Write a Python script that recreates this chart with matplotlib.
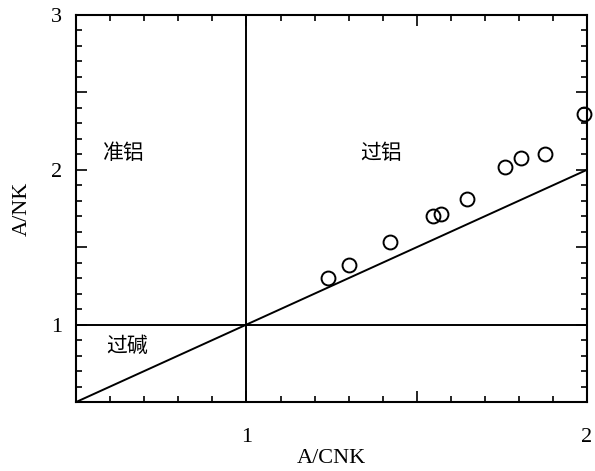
import matplotlib
matplotlib.use("Agg")
import matplotlib.pyplot as plt
from matplotlib.ticker import MultipleLocator, FixedFormatter, FixedLocator

acnk = [1.238, 1.302, 1.422, 1.548, 1.572, 1.648, 1.760, 1.806, 1.877, 1.991]
ank = [1.303, 1.387, 1.535, 1.703, 1.716, 1.813, 2.019, 2.077, 2.103, 2.361]
x_ticks = [1, 2]
y_ticks = [1, 2, 3]
region_labels = ["准铝", "过铝", "过碱"]

plt.rcParams['font.family'] = ['Liberation Serif', 'Noto Sans CJK SC']

fig = plt.figure(figsize=(5.95, 4.71), dpi=100)
ax = fig.add_axes([0.128, 0.1465, 0.8586, 0.8217])
ax.set_xlim(0.5, 2)
ax.set_ylim(0.5, 3)

lw = 1.4
ax.plot([0.5, 2], [0.5, 2], color='black', lw=lw)
ax.axvline(1, color='black', lw=lw)
ax.axhline(1, color='black', lw=lw)
ax.plot(acnk, ank, linestyle='none', marker='o', markersize=10,
        markerfacecolor='none', markeredgecolor='black', markeredgewidth=1.4,
        clip_on=False, zorder=5)

cjk = ['Noto Sans CJK SC']
ax.text(0.58, 2.11, region_labels[0], fontsize=15, family=cjk, va='center', ha='left')
ax.text(1.335, 2.11, region_labels[1], fontsize=15, family=cjk, va='center', ha='left')
ax.text(0.587, 0.86, region_labels[2], fontsize=15, family=cjk, va='center', ha='left')

ax.xaxis.set_major_locator(FixedLocator([0.5, 1, 1.5, 2]))
ax.xaxis.set_major_formatter(FixedFormatter(['', str(x_ticks[0]), '', str(x_ticks[1])]))
ax.xaxis.set_minor_locator(MultipleLocator(0.1))
ax.yaxis.set_major_locator(FixedLocator([0.5, 1, 1.5, 2, 2.5, 3]))
ax.yaxis.set_major_formatter(FixedFormatter(['', str(y_ticks[0]), '', str(y_ticks[1]), '', str(y_ticks[2])]))
ax.yaxis.set_minor_locator(MultipleLocator(0.1))

ax.tick_params(which='both', direction='in', top=True, right=True, width=1.2, labelsize=16)
ax.tick_params(which='major', length=8)
ax.tick_params(which='minor', length=4.5)
ax.tick_params(axis='x', pad=19)
ax.tick_params(axis='y', pad=10)
for s in ax.spines.values():
    s.set_linewidth(1.5)

ax.set_xlabel('A/CNK', fontsize=16, labelpad=1)
ax.set_ylabel('A/NK', fontsize=16, labelpad=14)

fig.savefig('out.png', dpi=100)
